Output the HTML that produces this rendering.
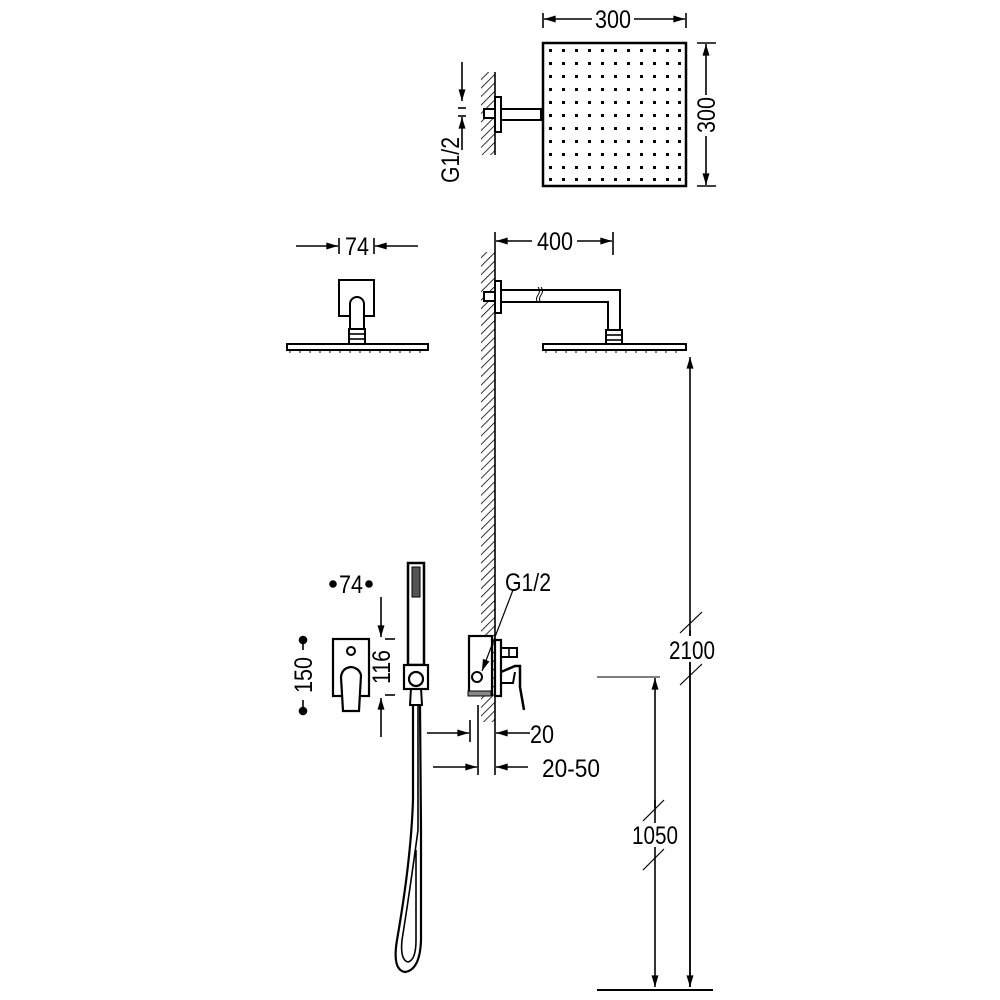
<!DOCTYPE html>
<html><head><meta charset="utf-8"><style>
html,body{margin:0;padding:0;background:#fff}
svg{display:block}
text{font-family:"Liberation Sans Narrow","Liberation Sans",sans-serif;font-size:25px;fill:#000}
</style></head><body>
<svg width="1000" height="1000" viewBox="0 0 1000 1000" xmlns="http://www.w3.org/2000/svg">
<defs>
<pattern id="h" width="6" height="6" patternUnits="userSpaceOnUse" patternTransform="rotate(45)">
<line x1="0" y1="0" x2="0" y2="6" stroke="#000" stroke-width="1.6"/>
</pattern>
<marker id="a" viewBox="0 0 10 6" refX="10" refY="3" markerWidth="15" markerHeight="7" markerUnits="userSpaceOnUse" orient="auto"><path d="M0,0L10,3L0,6z"/></marker>
</defs>
<g fill="none" stroke="#000" stroke-width="1.6">

<!-- TOP SQUARE -->
<rect x="543" y="43" width="143" height="143" stroke-width="2.5"/>
<line x1="543" y1="13" x2="543" y2="28"/><line x1="686" y1="13" x2="686" y2="28"/>
<line x1="592" y1="19" x2="544" y2="19" marker-end="url(#a)"/>
<line x1="634" y1="19" x2="685" y2="19" marker-end="url(#a)"/>
<line x1="697" y1="43" x2="716" y2="43"/><line x1="697" y1="186" x2="716" y2="186"/>
<line x1="706" y1="95" x2="706" y2="44" marker-end="url(#a)"/>
<line x1="706" y1="136" x2="706" y2="185" marker-end="url(#a)"/>
<rect x="481" y="72" width="14" height="83" fill="url(#h)" stroke="none"/>
<line x1="495" y1="72" x2="495" y2="155"/>
<rect x="495" y="97" width="6" height="35" fill="#fff" stroke-width="2"/>
<rect x="484" y="109" width="11" height="9" fill="#fff" stroke-width="2"/>
<rect x="501" y="109" width="40" height="11" stroke-width="2"/>
<line x1="462" y1="62" x2="462" y2="101" marker-end="url(#a)"/>
<line x1="462" y1="150" x2="462" y2="117" marker-end="url(#a)"/>
<line x1="458" y1="108" x2="466" y2="108"/><line x1="458" y1="116" x2="466" y2="116"/>

<!-- 74 top -->
<line x1="296" y1="246" x2="338" y2="246" marker-end="url(#a)"/>
<line x1="418" y1="246" x2="375" y2="246" marker-end="url(#a)"/>
<line x1="339" y1="238" x2="339" y2="254"/><line x1="374" y1="238" x2="374" y2="254"/>
<rect x="339" y="280" width="35" height="36" fill="#fff" stroke-width="2"/>
<path d="M350,329 V304 A7,7 0 0 1 364,304 V329" fill="#fff" stroke-width="2"/>
<rect x="349" y="329" width="16" height="16" fill="#fff" stroke-width="2"/>
<line x1="349" y1="334" x2="365" y2="334"/><line x1="349" y1="339" x2="365" y2="339"/>
<rect x="287" y="344" width="141" height="6" fill="#fff" stroke-width="2"/>
<path d="M290,350v3M300,350v3M310,350v3M320,350v3M330,350v3M340,350v3M350,350v3M360,350v3M370,350v3M380,350v3M390,350v3M400,350v3M410,350v3M420,350v3" stroke-width="1"/>

<!-- 400 side view -->
<line x1="495" y1="232" x2="495" y2="252"/>
<line x1="613" y1="232" x2="613" y2="255"/>
<line x1="532" y1="241" x2="496" y2="241" marker-end="url(#a)"/>
<line x1="577" y1="241" x2="612" y2="241" marker-end="url(#a)"/>
<rect x="481" y="252" width="14" height="470" fill="url(#h)" stroke="none"/>
<line x1="495" y1="252" x2="495" y2="775"/>
<line x1="478" y1="705" x2="478" y2="775"/>
<rect x="495" y="281" width="6" height="32" fill="#fff" stroke-width="2"/>
<rect x="484" y="292" width="11" height="9" fill="#fff" stroke-width="2"/>
<path d="M501,290 H620 V330 M501,302 H608 V330" stroke-width="2"/>
<path d="M538,287 q3,4 0,8 q-3,4 0,8 M541,287 q3,4 0,8 q-3,4 0,8" stroke-width="1"/>
<rect x="606" y="330" width="16" height="15" fill="#fff" stroke-width="2"/>
<line x1="606" y1="335" x2="622" y2="335"/><line x1="606" y1="340" x2="622" y2="340"/>
<rect x="543" y="344" width="143" height="6" fill="#fff" stroke-width="2"/>
<path d="M546,350v3M556,350v3M566,350v3M576,350v3M586,350v3M596,350v3M606,350v3M616,350v3M626,350v3M636,350v3M646,350v3M656,350v3M666,350v3M676,350v3" stroke-width="1"/>

<!-- 2100 / 1050 -->
<line x1="690" y1="987" x2="690" y2="357" marker-end="url(#a)"/>
<line x1="690" y1="630" x2="690" y2="987" marker-end="url(#a)"/>
<line x1="680" y1="633" x2="702" y2="612" stroke-width="1.2"/>
<line x1="680" y1="685" x2="702" y2="664" stroke-width="1.2"/>
<rect x="668" y="636" width="46" height="26" fill="#fff" stroke="none"/>
<line x1="597" y1="677" x2="660" y2="677" stroke-width="1"/>
<line x1="655" y1="700" x2="655" y2="678" marker-end="url(#a)"/>
<line x1="655" y1="800" x2="655" y2="987" marker-end="url(#a)"/>
<line x1="655" y1="700" x2="655" y2="810"/>
<line x1="643" y1="821" x2="664" y2="800" stroke-width="1.2"/>
<line x1="643" y1="870" x2="664" y2="849" stroke-width="1.2"/>
<rect x="630" y="823" width="50" height="24" fill="#fff" stroke="none"/>
<line x1="597" y1="990" x2="713" y2="990" stroke-width="2"/>

<!-- front mixer -->
<rect x="333" y="639" width="36" height="57" stroke-width="2.2"/>
<circle cx="351" cy="651" r="4" stroke-width="2"/>
<path d="M343,711 L341,677 Q342,668 351,667 Q359,668 361,675 L359,711 Z" fill="#fff" stroke-width="2.2"/>
<circle cx="303" cy="640" r="3.5" fill="#000"/><circle cx="303" cy="711" r="3.5" fill="#000"/>
<line x1="303" y1="644" x2="303" y2="650"/><line x1="303" y1="700" x2="303" y2="707"/>
<circle cx="333" cy="584" r="3" fill="#000"/><circle cx="369" cy="584" r="3" fill="#000"/>
<line x1="381" y1="597" x2="381" y2="637" marker-end="url(#a)"/>
<line x1="381" y1="737" x2="381" y2="698" marker-end="url(#a)"/>
<line x1="385" y1="639" x2="395" y2="639"/><line x1="385" y1="695" x2="395" y2="695"/>

<!-- hand shower -->
<rect x="408" y="563" width="16" height="102" fill="#fff" stroke-width="2.5"/>
<rect x="412" y="567" width="8" height="30" fill="#555" stroke-width="1"/>
<path d="M411,688 L410,705 H422 L421,688" fill="#fff" stroke-width="2"/>
<rect x="404" y="665" width="24" height="24" fill="#fff" stroke-width="2.2"/>
<circle cx="416" cy="679" r="7" fill="#fff" stroke-width="2.2"/>
<path d="M413,705 L413,800 Q411,860 397,940 Q392,970 405,972 Q420,970 421,940 L421,830 L420,705" stroke-width="2.2"/>
<path d="M418,705 L418,830 Q410,890 402,940 Q400,960 408,962 Q416,960 416,940 L416,850" stroke-width="1.6"/>

<!-- side mixer -->
<rect x="469" y="636" width="23" height="59" fill="#fff" stroke-width="2.2"/>
<rect x="468" y="691" width="23" height="5" fill="#888" stroke-width="1"/>
<rect x="495" y="640" width="6" height="56" fill="#fff" stroke-width="2.2"/>
<circle cx="477" cy="677" r="5" fill="#fff" stroke-width="2"/>
<rect x="501" y="648" width="16" height="9" fill="#fff" stroke-width="2"/>
<line x1="509" y1="648" x2="509" y2="657"/>
<path d="M501,672 L515,666 L520,666 L520,687 L524,710" stroke-width="2.5"/>
<path d="M501,683 L513,683 L515,672" stroke-width="2"/>
<line x1="513" y1="590" x2="482" y2="671" marker-end="url(#a)" stroke-width="1.2"/>

<!-- 20 dims -->
<line x1="470" y1="720" x2="470" y2="742"/>
<line x1="427" y1="733" x2="469" y2="733" marker-end="url(#a)"/>
<line x1="530" y1="733" x2="496" y2="733" marker-end="url(#a)"/>
<line x1="433" y1="767" x2="477" y2="767" marker-end="url(#a)"/>
<line x1="528" y1="767" x2="496" y2="767" marker-end="url(#a)"/>
</g>

<!-- text -->
<text x="595" y="28" textLength="36" lengthAdjust="spacingAndGlyphs">300</text>
<text transform="translate(715,133) rotate(-90)" textLength="36" lengthAdjust="spacingAndGlyphs">300</text>
<text transform="translate(459,183) rotate(-90)" textLength="46" lengthAdjust="spacingAndGlyphs">G1/2</text>
<text x="345" y="255" textLength="24" lengthAdjust="spacingAndGlyphs">74</text>
<text x="537" y="250" textLength="36" lengthAdjust="spacingAndGlyphs">400</text>
<text x="669" y="659" textLength="46" lengthAdjust="spacingAndGlyphs">2100</text>
<text x="632" y="844" textLength="46" lengthAdjust="spacingAndGlyphs">1050</text>
<text x="339" y="593" textLength="24" lengthAdjust="spacingAndGlyphs">74</text>
<text transform="translate(312,693) rotate(-90)" textLength="36" lengthAdjust="spacingAndGlyphs">150</text>
<text transform="translate(390,684) rotate(-90)" textLength="34" lengthAdjust="spacingAndGlyphs">116</text>
<text x="505" y="591" textLength="46" lengthAdjust="spacingAndGlyphs">G1/2</text>
<text x="530" y="743" textLength="24" lengthAdjust="spacingAndGlyphs">20</text>
<text x="542" y="777" textLength="58" lengthAdjust="spacingAndGlyphs">20-50</text>

<g fill="#000">
<rect x="549" y="49" width="3" height="3"/><rect x="562" y="49" width="3" height="3"/><rect x="575" y="49" width="3" height="3"/><rect x="588" y="49" width="3" height="3"/><rect x="601" y="49" width="3" height="3"/><rect x="614" y="49" width="3" height="3"/><rect x="627" y="49" width="3" height="3"/><rect x="640" y="49" width="3" height="3"/><rect x="653" y="49" width="3" height="3"/><rect x="666" y="49" width="3" height="3"/><rect x="678" y="49" width="3" height="3"/>
<rect x="549" y="62" width="3" height="3"/><rect x="562" y="62" width="3" height="3"/><rect x="575" y="62" width="3" height="3"/><rect x="588" y="62" width="3" height="3"/><rect x="601" y="62" width="3" height="3"/><rect x="614" y="62" width="3" height="3"/><rect x="627" y="62" width="3" height="3"/><rect x="640" y="62" width="3" height="3"/><rect x="653" y="62" width="3" height="3"/><rect x="666" y="62" width="3" height="3"/><rect x="678" y="62" width="3" height="3"/>
<rect x="549" y="75" width="3" height="3"/><rect x="562" y="75" width="3" height="3"/><rect x="575" y="75" width="3" height="3"/><rect x="588" y="75" width="3" height="3"/><rect x="601" y="75" width="3" height="3"/><rect x="614" y="75" width="3" height="3"/><rect x="627" y="75" width="3" height="3"/><rect x="640" y="75" width="3" height="3"/><rect x="653" y="75" width="3" height="3"/><rect x="666" y="75" width="3" height="3"/><rect x="678" y="75" width="3" height="3"/>
<rect x="549" y="88" width="3" height="3"/><rect x="562" y="88" width="3" height="3"/><rect x="575" y="88" width="3" height="3"/><rect x="588" y="88" width="3" height="3"/><rect x="601" y="88" width="3" height="3"/><rect x="614" y="88" width="3" height="3"/><rect x="627" y="88" width="3" height="3"/><rect x="640" y="88" width="3" height="3"/><rect x="653" y="88" width="3" height="3"/><rect x="666" y="88" width="3" height="3"/><rect x="678" y="88" width="3" height="3"/>
<rect x="549" y="101" width="3" height="3"/><rect x="562" y="101" width="3" height="3"/><rect x="575" y="101" width="3" height="3"/><rect x="588" y="101" width="3" height="3"/><rect x="601" y="101" width="3" height="3"/><rect x="614" y="101" width="3" height="3"/><rect x="627" y="101" width="3" height="3"/><rect x="640" y="101" width="3" height="3"/><rect x="653" y="101" width="3" height="3"/><rect x="666" y="101" width="3" height="3"/><rect x="678" y="101" width="3" height="3"/>
<rect x="549" y="114" width="3" height="3"/><rect x="562" y="114" width="3" height="3"/><rect x="575" y="114" width="3" height="3"/><rect x="588" y="114" width="3" height="3"/><rect x="601" y="114" width="3" height="3"/><rect x="614" y="114" width="3" height="3"/><rect x="627" y="114" width="3" height="3"/><rect x="640" y="114" width="3" height="3"/><rect x="653" y="114" width="3" height="3"/><rect x="666" y="114" width="3" height="3"/><rect x="678" y="114" width="3" height="3"/>
<rect x="549" y="127" width="3" height="3"/><rect x="562" y="127" width="3" height="3"/><rect x="575" y="127" width="3" height="3"/><rect x="588" y="127" width="3" height="3"/><rect x="601" y="127" width="3" height="3"/><rect x="614" y="127" width="3" height="3"/><rect x="627" y="127" width="3" height="3"/><rect x="640" y="127" width="3" height="3"/><rect x="653" y="127" width="3" height="3"/><rect x="666" y="127" width="3" height="3"/><rect x="678" y="127" width="3" height="3"/>
<rect x="549" y="140" width="3" height="3"/><rect x="562" y="140" width="3" height="3"/><rect x="575" y="140" width="3" height="3"/><rect x="588" y="140" width="3" height="3"/><rect x="601" y="140" width="3" height="3"/><rect x="614" y="140" width="3" height="3"/><rect x="627" y="140" width="3" height="3"/><rect x="640" y="140" width="3" height="3"/><rect x="653" y="140" width="3" height="3"/><rect x="666" y="140" width="3" height="3"/><rect x="678" y="140" width="3" height="3"/>
<rect x="549" y="153" width="3" height="3"/><rect x="562" y="153" width="3" height="3"/><rect x="575" y="153" width="3" height="3"/><rect x="588" y="153" width="3" height="3"/><rect x="601" y="153" width="3" height="3"/><rect x="614" y="153" width="3" height="3"/><rect x="627" y="153" width="3" height="3"/><rect x="640" y="153" width="3" height="3"/><rect x="653" y="153" width="3" height="3"/><rect x="666" y="153" width="3" height="3"/><rect x="678" y="153" width="3" height="3"/>
<rect x="549" y="166" width="3" height="3"/><rect x="562" y="166" width="3" height="3"/><rect x="575" y="166" width="3" height="3"/><rect x="588" y="166" width="3" height="3"/><rect x="601" y="166" width="3" height="3"/><rect x="614" y="166" width="3" height="3"/><rect x="627" y="166" width="3" height="3"/><rect x="640" y="166" width="3" height="3"/><rect x="653" y="166" width="3" height="3"/><rect x="666" y="166" width="3" height="3"/><rect x="678" y="166" width="3" height="3"/>
<rect x="549" y="178" width="3" height="3"/><rect x="562" y="178" width="3" height="3"/><rect x="575" y="178" width="3" height="3"/><rect x="588" y="178" width="3" height="3"/><rect x="601" y="178" width="3" height="3"/><rect x="614" y="178" width="3" height="3"/><rect x="627" y="178" width="3" height="3"/><rect x="640" y="178" width="3" height="3"/><rect x="653" y="178" width="3" height="3"/><rect x="666" y="178" width="3" height="3"/><rect x="678" y="178" width="3" height="3"/>
</g>
</svg>
</body></html>
